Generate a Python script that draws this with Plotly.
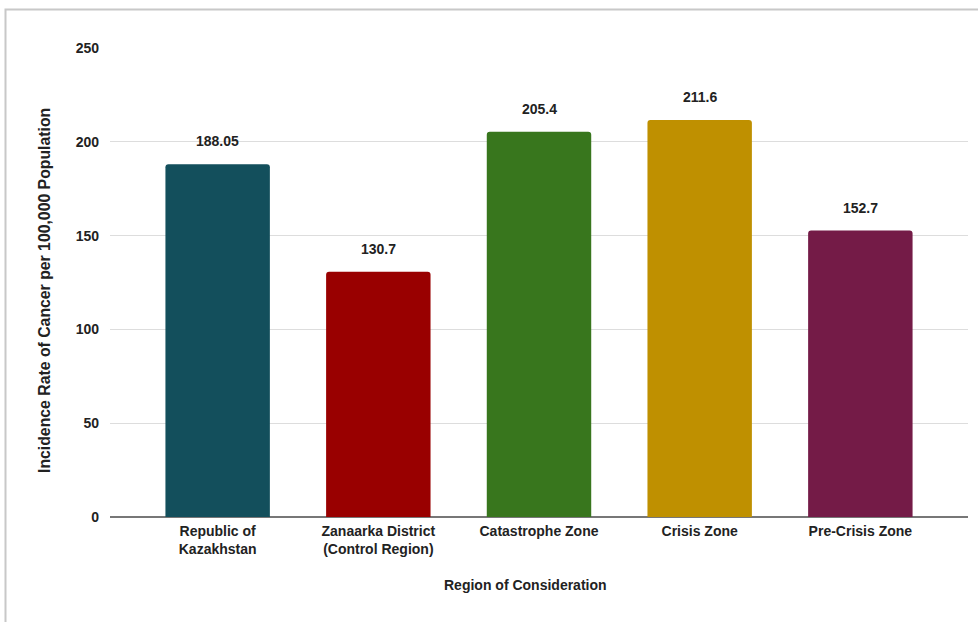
import plotly.graph_objects as go

categories = ["Republic of<br>Kazakhstan", "Zanaarka District<br>(Control Region)",
              "Catastrophe Zone", "Crisis Zone", "Pre-Crisis Zone"]
values = [188.05, 130.7, 205.4, 211.6, 152.7]
value_labels = ["188.05", "130.7", "205.4", "211.6", "152.7"]
colors = ["#134F5C", "#990000", "#38761D", "#BF9000", "#741B47"]
y_ticks = [0, 50, 100, 150, 200, 250]

W, H = 978, 622
ml, mr, mt, mb = 110, 10, 48, 105
pw, ph = W - ml - mr, H - mt - mb

font = "Liberation Sans, Arial, sans-serif"
fs = 14
tc = "#222222"

fig = go.Figure()
fig.add_trace(go.Bar(
    x=list(range(len(categories))), y=values,
    marker=dict(color=colors, line=dict(width=0), cornerradius=3),
    width=0.65, hoverinfo="skip",
))

for i, (v, t) in enumerate(zip(values, value_labels)):
    fig.add_annotation(x=i, y=v, text=f"<b>{t}</b>", showarrow=False,
                       yshift=23, xanchor="center", yanchor="middle",
                       font=dict(family=font, size=fs, color=tc))

# axis titles
fig.add_annotation(xref="paper", yref="paper",
                   x=(525 - ml) / pw, y=1 - (585 - mt) / ph,
                   xanchor="center", yanchor="middle",
                   text="<b>Region of Consideration</b>", showarrow=False,
                   font=dict(family=font, size=fs, color=tc))
fig.add_annotation(xref="paper", yref="paper",
                   x=(44 - ml) / pw, y=1 - (291 - mt) / ph,
                   xanchor="center", yanchor="middle",
                   text="<b>Incidence Rate of Cancer per 100,000 Population</b>",
                   textangle=-90, showarrow=False,
                   font=dict(family=font, size=15.8, color=tc))

# outer border
fig.add_shape(type="rect", xref="paper", yref="paper",
              x0=(5.5 - ml) / pw, x1=1.2, y0=-0.5, y1=1 + (mt - 9.5) / ph,
              line=dict(color="#c8c8c8", width=2), fillcolor="rgba(0,0,0,0)",
              layer="below")

fig.update_layout(
    width=W, height=H,
    margin=dict(l=ml, r=mr, t=mt, b=mb),
    paper_bgcolor="white", plot_bgcolor="white",
    showlegend=False,
    font=dict(family=font, size=fs, color=tc),
)
fig.update_xaxes(
    tickmode="array", tickvals=list(range(len(categories))),
    ticktext=[f"<b>{c}</b>" for c in categories],
    range=[-0.67, 4.67], showgrid=False, zeroline=False, showline=False,
    ticks="", ticklabelstandoff=4,
    tickfont=dict(family=font, size=fs, color=tc),
)
fig.update_yaxes(
    range=[0, 250], tickvals=y_ticks,
    ticktext=[f"<b>{t}</b>" for t in y_ticks],
    showgrid=True, gridcolor="#dddddd", gridwidth=1,
    zeroline=True, zerolinecolor="#777777", zerolinewidth=2,
    showline=False, ticks="", ticklabelstandoff=10,
    tickfont=dict(family=font, size=fs, color=tc),
)

fig.write_html("out.html")
